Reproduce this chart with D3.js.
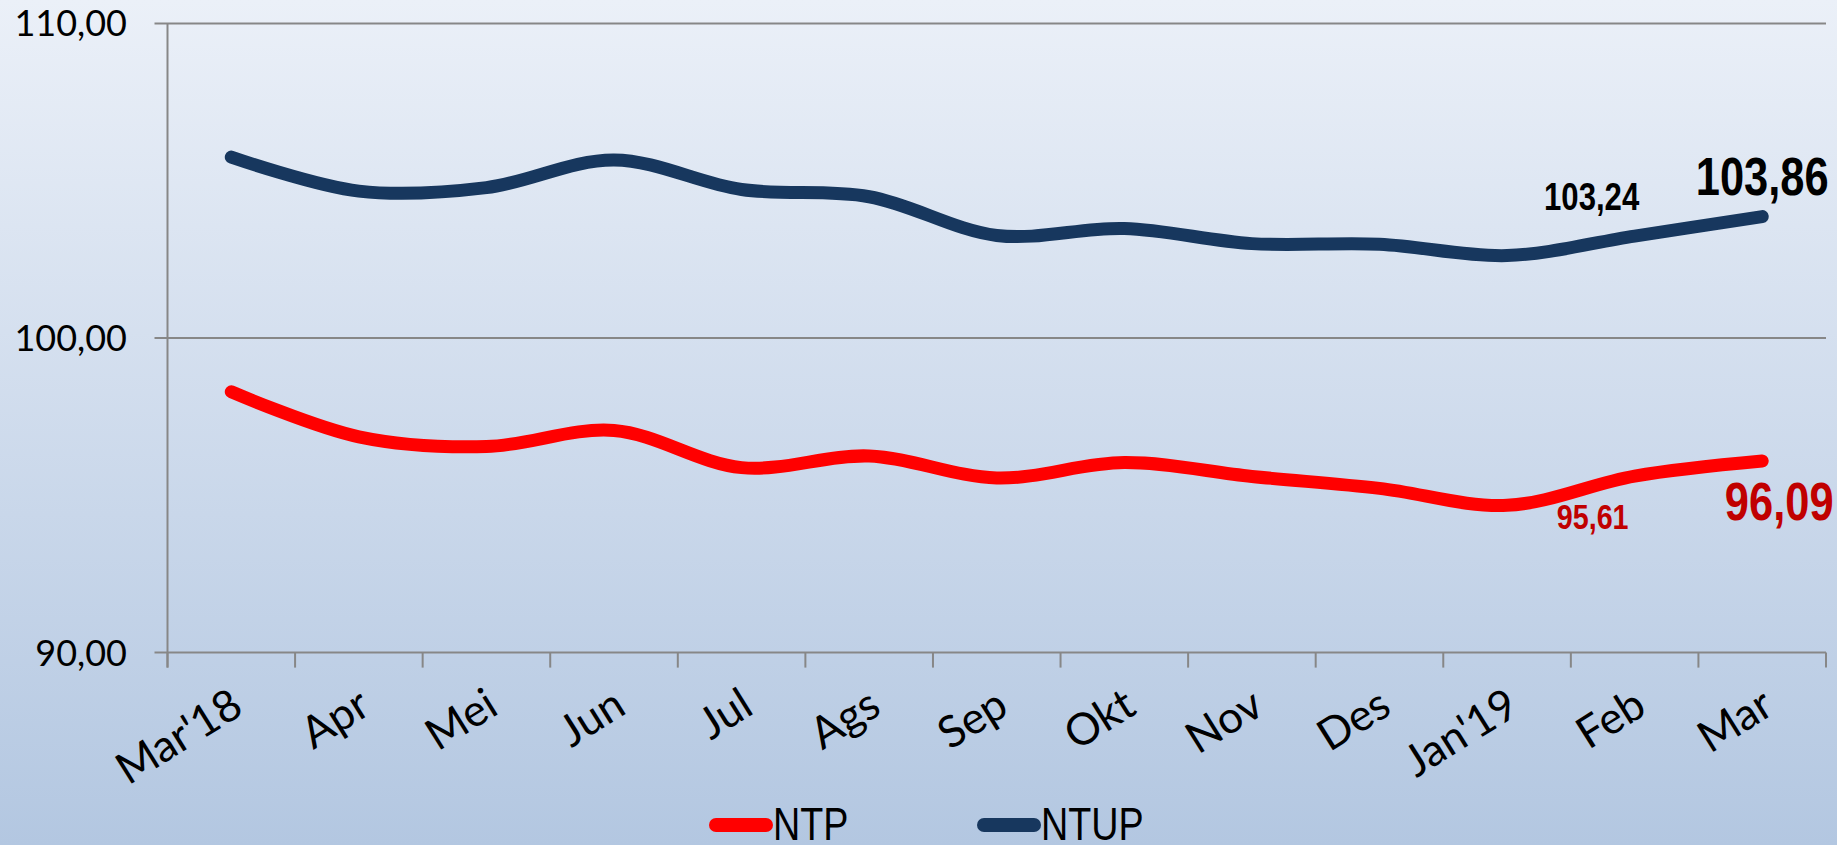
<!DOCTYPE html>
<html>
<head>
<meta charset="utf-8">
<script src="https://cdn.jsdelivr.net/npm/d3@7"></script>
<style>
  html, body { margin: 0; padding: 0; overflow: hidden; }
  svg { display: block; }
</style>
</head>
<body>
<svg id="chart" width="1837" height="845"></svg>
<script>
const categories = ["Mar'18","Apr","Mei","Jun","Jul","Ags","Sep","Okt","Nov","Des","Jan'19","Feb","Mar"];
const ntp  = [98.29, 96.86, 96.55, 97.06, 95.88, 96.25, 95.55, 96.04, 95.60, 95.22, 94.68, 95.61, 96.09];
const ntup = [105.75, 104.67, 104.78, 105.66, 104.72, 104.49, 103.26, 103.48, 103.00, 102.98, 102.62, 103.24, 103.86];
const yTicks = [90, 100, 110];
const seriesNames = ["NTP", "NTUP"];
const seriesColors = ["#ff0000", "#17375e"];

(function () {
const W = 1837, H = 845;
const pLeft = 167.5, pRight = 1826, pTop = 23.4, pBottom = 652.6;
const narrow = 0.82;

const svg = d3.select("#chart");
const defs = svg.append("defs");
const grad = defs.append("linearGradient").attr("id", "bg").attr("x1", 0).attr("y1", 0).attr("x2", 0).attr("y2", 1);
grad.append("stop").attr("offset", "0%").attr("stop-color", "#ebf0f8");
grad.append("stop").attr("offset", "100%").attr("stop-color", "#b3c7e1");
svg.append("rect").attr("width", W).attr("height", H).attr("fill", "url(#bg)");

const x = d3.scaleBand().domain(categories).range([pLeft, pRight]).padding(0);
const y = d3.scaleLinear().domain([90, 110]).range([pBottom, pTop]);
const cx = c => x(c) + x.bandwidth() / 2;

svg.append("g").selectAll("line").data(yTicks).join("line")
  .attr("x1", pLeft - 13).attr("x2", pRight)
  .attr("y1", d => y(d)).attr("y2", d => y(d))
  .attr("stroke", "#878787").attr("stroke-width", 2);

svg.append("line").attr("x1", pLeft).attr("x2", pLeft).attr("y1", pTop).attr("y2", pBottom + 15)
  .attr("stroke", "#878787").attr("stroke-width", 2);

const edges = categories.map(c => x(c)).concat([pRight]);
svg.append("g").selectAll("line").data(edges).join("line")
  .attr("x1", d => d).attr("x2", d => d)
  .attr("y1", pBottom).attr("y2", pBottom + 15)
  .attr("stroke", "#878787").attr("stroke-width", 2);

const fmt = v => d3.format(".2f")(v).replace(".", ",");
svg.append("g").selectAll("text").data(yTicks).join("text")
  .attr("x", 127).attr("y", d => y(d) + 13)
  .attr("text-anchor", "end")
  .attr("font-family", "Lato, 'Open Sans', sans-serif")
  .attr("font-size", 36).attr("fill", "#000")
  .text(fmt);

svg.append("g").selectAll("text").data(categories).join("text")
  .attr("text-anchor", "end")
  .attr("transform", d => `translate(${cx(d) + 14},${pBottom + 60}) rotate(-32)`)
  .attr("font-family", "Lato, 'Open Sans', sans-serif")
  .attr("font-size", 44).attr("fill", "#000")
  .text(d => d);

const line = d3.line()
  .x((d, i) => cx(categories[i]))
  .y(d => y(d))
  .curve(d3.curveCatmullRom.alpha(0.5));

[ntp, ntup].forEach((s, k) => {
  svg.append("path").datum(s)
    .attr("d", line)
    .attr("fill", "none")
    .attr("stroke", seriesColors[k])
    .attr("stroke-width", 13)
    .attr("stroke-linecap", "round")
    .attr("stroke-linejoin", "round");
});

const nf = "'Liberation Sans', Arial, sans-serif";
const labels = [
  {v: ntup[11], i: 11, dx: -43, dy: -26, size: 38, color: "#000"},
  {v: ntup[12], i: 12, dx: 0,   dy: -22, size: 53, color: "#000"},
  {v: ntp[11],  i: 11, dx: -42, dy: 53,  size: 35, color: "#c00000"},
  {v: ntp[12],  i: 12, dx: 17,  dy: 59,  size: 53, color: "#c00000"}
];
svg.append("g").selectAll("g").data(labels).join("g")
  .attr("transform", d => `translate(${cx(categories[d.i]) + d.dx},${y(d.v) + d.dy}) scale(${narrow},1)`)
  .append("text")
  .attr("text-anchor", "middle")
  .attr("font-family", nf).attr("font-weight", "bold")
  .attr("font-size", d => d.size).attr("fill", d => d.color)
  .text(d => fmt(d.v));

const legendX = [709, 977];
const lg = svg.append("g").selectAll("g").data(seriesNames).join("g");
lg.append("line")
  .attr("x1", (d, i) => legendX[i] + 7).attr("x2", (d, i) => legendX[i] + 57)
  .attr("y1", 825).attr("y2", 825)
  .attr("stroke", (d, i) => seriesColors[i]).attr("stroke-width", 14)
  .attr("stroke-linecap", "round");
lg.append("g")
  .attr("transform", (d, i) => `translate(${legendX[i] + 64},840) scale(${narrow},1)`)
  .append("text")
  .attr("font-family", nf).attr("font-size", 46).attr("fill", "#000")
  .text(d => d);
})();
</script>
</body>
</html>
